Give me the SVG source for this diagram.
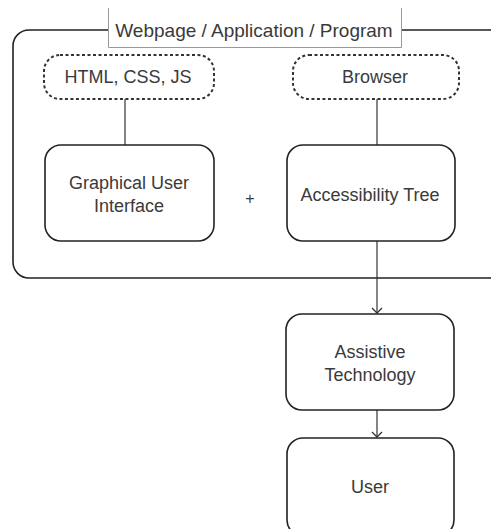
<svg xmlns="http://www.w3.org/2000/svg" width="491" height="529" viewBox="0 0 491 529">
<style>
text{font-family:"Liberation Sans",Arial,sans-serif;font-size:18px;fill:#3a3a3a;text-anchor:middle}
.box{fill:#fff;stroke:#222;stroke-width:1.6}
.pill{fill:none;stroke:#333;stroke-width:2;stroke-dasharray:3 2.5}
.conn{fill:none;stroke:#333;stroke-width:1.2}
.thin{fill:none;stroke:#999;stroke-width:1}
</style>
<defs>
<marker id="arr" markerWidth="12" markerHeight="12" refX="8" refY="6" orient="auto" markerUnits="userSpaceOnUse" viewBox="0 0 12 12">
<path d="M3,1 L8,6 L3,11" fill="none" stroke="#333" stroke-width="1.3"/>
</marker>
</defs>
<g id="frame">
<rect class="box" x="13" y="30" width="493" height="248" rx="16"/>
<rect x="108" y="0" width="294" height="47" fill="#fff"/>
<path class="thin" d="M108.5,8 V47.5 H401.5 V8"/>
<text x="254" y="37" style="font-size:19px">Webpage / Application / Program</text>
</g>
<g id="connectors">
<line class="conn" x1="125" y1="99" x2="125" y2="145" stroke="#999"/>
<line class="conn" x1="377" y1="99" x2="377" y2="145"/>
<line class="conn" x1="377" y1="241" x2="377" y2="313" marker-end="url(#arr)"/>
<line class="conn" x1="377" y1="410" x2="377" y2="437" marker-end="url(#arr)"/>
</g>
<g id="html">
<rect class="pill" x="44" y="55" width="170" height="44" rx="16"/>
<text x="128" y="83">HTML, CSS, JS</text>
</g>
<g id="browser">
<rect class="pill" x="293" y="55" width="166" height="44" rx="16"/>
<text x="375" y="83">Browser</text>
</g>
<g id="gui">
<rect class="box" x="45" y="145" width="169" height="96" rx="16"/>
<text x="129" y="189">Graphical User</text>
<text x="129" y="212">Interface</text>
</g>
<g id="plus">
<text x="250" y="204" style="font-size:16px">+</text>
</g>
<g id="tree">
<rect class="box" x="287" y="145" width="168" height="96" rx="16"/>
<text x="370" y="201">Accessibility Tree</text>
</g>
<g id="at">
<rect class="box" x="286" y="314" width="168" height="96" rx="16"/>
<text x="370" y="358">Assistive</text>
<text x="370" y="381">Technology</text>
</g>
<g id="user">
<rect class="box" x="287" y="438" width="167" height="98" rx="16"/>
<text x="370" y="493">User</text>
</g>
</svg>
